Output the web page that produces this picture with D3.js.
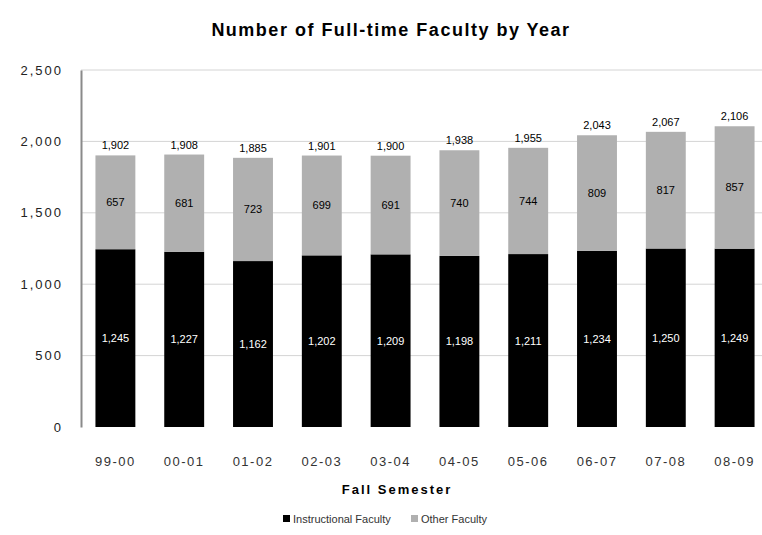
<!DOCTYPE html>
<html>
<head>
<meta charset="utf-8">
<script src="https://cdn.jsdelivr.net/npm/d3@7"></script>
<style>
  body { margin: 0; background: #fff; }
  text { font-family: "Liberation Sans", Arial, sans-serif; }
</style>
</head>
<body>
<svg id="chart" width="762" height="535"></svg>
<script>
const years = ['99-00', '00-01', '01-02', '02-03', '03-04', '04-05', '05-06', '06-07', '07-08', '08-09']
const instructional = [1245, 1227, 1162, 1202, 1209, 1198, 1211, 1234, 1250, 1249]
const other = [657, 681, 723, 699, 691, 740, 744, 809, 817, 857]
const yTicks = [0, 500, 1000, 1500, 2000, 2500]
const seriesNames = ['Instructional Faculty', 'Other Faculty']
const colors = ['#000000', '#b0b0b0']

const fmt = d3.format(',')
const svg = d3.select('#chart')

const x = d3.scaleBand()
  .domain(years)
  .range([81, 769])
  .paddingInner(0.42)
  .paddingOuter(0.21)

const y = d3.scaleLinear()
  .domain([0, 2500])
  .range([427, 70])

// gridlines
svg.append('g')
  .selectAll('line')
  .data(yTicks.filter(d => d > 0))
  .enter()
  .append('line')
  .attr('x1', 81)
  .attr('x2', 769)
  .attr('y1', d => y(d))
  .attr('y2', d => y(d))
  .style('stroke', '#d4d4d4')
  .style('stroke-width', 1)

// y axis
const yAxis = svg.append('g')
  .attr('transform', 'translate(81,0)')
  .call(d3.axisLeft(y).tickValues(yTicks).tickFormat(fmt).tickSize(0).tickPadding(18))
yAxis.select('.domain').style('stroke', '#8a8a8a').style('stroke-width', 2)
yAxis.selectAll('text').style('font-size', '13px').style('letter-spacing', '2px').style('fill', '#222')

// x axis labels
const xAxis = svg.append('g')
  .attr('transform', 'translate(0,427)')
  .call(d3.axisBottom(x).tickSize(0).tickPadding(30))
xAxis.select('.domain').remove()
xAxis.selectAll('text').style('font-size', '13px').style('letter-spacing', '1.5px').style('fill', '#333')

const stacked = years.map((yr, i) => ({ year: yr, a: instructional[i], b: other[i] }))

// instructional bars
svg.append('g')
  .selectAll('rect')
  .data(stacked)
  .enter()
  .append('rect')
  .attr('x', d => x(d.year))
  .attr('width', x.bandwidth())
  .attr('y', d => y(d.a))
  .attr('height', d => y(0) - y(d.a))
  .style('fill', colors[0])

// other bars
svg.append('g')
  .selectAll('rect')
  .data(stacked)
  .enter()
  .append('rect')
  .attr('x', d => x(d.year))
  .attr('width', x.bandwidth())
  .attr('y', d => y(d.a + d.b))
  .attr('height', d => y(d.a) - y(d.a + d.b))
  .style('fill', colors[1])

const labels = svg.append('g').style('font-size', '11px').attr('text-anchor', 'middle')

labels.selectAll('.lblA')
  .data(stacked)
  .enter()
  .append('text')
  .attr('x', d => x(d.year) + x.bandwidth() / 2)
  .attr('y', d => (y(0) + y(d.a)) / 2 + 4)
  .style('fill', '#fff')
  .text(d => fmt(d.a))

labels.selectAll('.lblB')
  .data(stacked)
  .enter()
  .append('text')
  .attr('x', d => x(d.year) + x.bandwidth() / 2)
  .attr('y', d => (y(d.a) + y(d.a + d.b)) / 2 + 4)
  .style('fill', '#000')
  .text(d => fmt(d.b))

labels.selectAll('.lblT')
  .data(stacked)
  .enter()
  .append('text')
  .attr('x', d => x(d.year) + x.bandwidth() / 2)
  .attr('y', d => y(d.a + d.b) - 6)
  .style('fill', '#000')
  .text(d => fmt(d.a + d.b))

// title
svg.append('text')
  .attr('x', 391)
  .attr('y', 36)
  .attr('text-anchor', 'middle')
  .style('font-size', '18px')
  .style('font-weight', 'bold')
  .style('letter-spacing', '1.5px')
  .text('Number of Full-time Faculty by Year')

svg.append('text')
  .attr('x', 397)
  .attr('y', 494)
  .attr('text-anchor', 'middle')
  .style('font-size', '13px')
  .style('font-weight', 'bold')
  .style('letter-spacing', '2px')
  .text('Fall Semester')

// legend
const legend = svg.append('g').attr('transform', 'translate(283,523)')
const legendX = [0, 128]
seriesNames.forEach((name, i) => {
  const g = legend.append('g').attr('transform', `translate(${legendX[i]},0)`)
  g.append('rect').attr('x', 0).attr('y', -8).attr('width', 7).attr('height', 7).style('fill', colors[i])
  g.append('text').attr('x', 10).attr('y', 0).style('font-size', '11px').style('fill', '#333').text(name)
})
</script>
</body>
</html>
